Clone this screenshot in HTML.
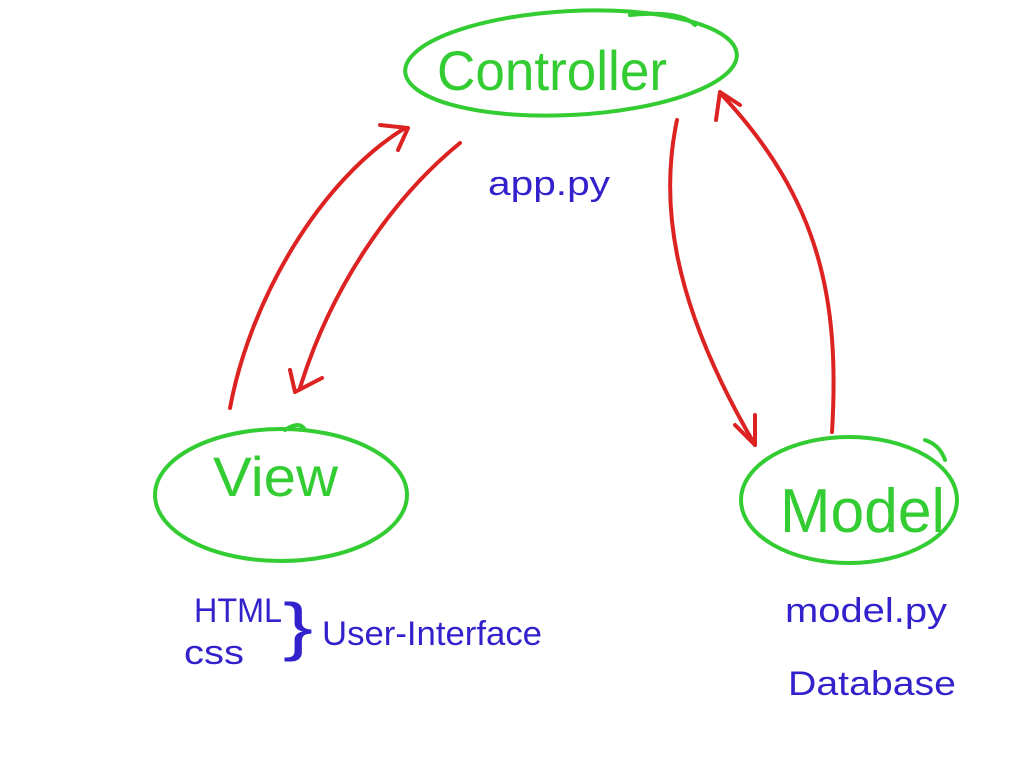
<!DOCTYPE html>
<html><head><meta charset="utf-8"><style>
html,body{margin:0;padding:0;background:#fff;width:1024px;height:768px;overflow:hidden}
svg text{font-family:"Liberation Sans",sans-serif}
</style></head><body>
<svg width="1024" height="768" viewBox="0 0 1024 768" xmlns="http://www.w3.org/2000/svg">
<g fill="none" stroke="#33cc33" stroke-width="4" stroke-linecap="round">
<ellipse cx="571" cy="63" rx="166" ry="52" transform="rotate(-3 571 63)"/>
<path d="M630 15 Q680 10 695 25"/>
<ellipse cx="281" cy="495" rx="126" ry="66"/>
<path d="M285 430 Q300 420 305 430"/>
<ellipse cx="849" cy="500" rx="108" ry="63"/>
<path d="M925 440 Q940 445 945 460"/>
</g>
<g font-size="56" fill="#33cc33" font-weight="normal">
<text x="437" y="90" textLength="230" lengthAdjust="spacingAndGlyphs">Controller</text>
<text x="213" y="496" textLength="125" lengthAdjust="spacingAndGlyphs">View</text>
<text x="780" y="532" textLength="165" lengthAdjust="spacingAndGlyphs" font-size="62">Model</text>
</g>
<g fill="none" stroke="#dd2222" stroke-width="4" stroke-linecap="round" stroke-linejoin="round">
<path d="M230 408 C250 300 320 180 405 128"/>
<path d="M380 125 L408 128 L398 150"/>
<path d="M460 143 C390 200 330 290 300 388"/>
<path d="M290 370 L295 392 L322 378"/>
<path d="M677 120 C660 200 670 300 755 445"/>
<path d="M735 425 L755 445 L755 415"/>
<path d="M832 432 C840 300 820 200 722 95"/>
<path d="M716 120 L720 92 L740 105"/>
</g>
<g fill="#3322cc" font-size="34">
<text x="488" y="195" textLength="122" lengthAdjust="spacingAndGlyphs">app.py</text>
<text x="194" y="622" textLength="88" lengthAdjust="spacingAndGlyphs">HTML</text>
<text x="184" y="664" textLength="60" lengthAdjust="spacingAndGlyphs">css</text>
<text x="283" y="648" font-size="64" textLength="30" lengthAdjust="spacingAndGlyphs">}</text>
<text x="322" y="645" textLength="220" lengthAdjust="spacingAndGlyphs">User-Interface</text>
<text x="785" y="622" textLength="162" lengthAdjust="spacingAndGlyphs">model.py</text>
<text x="788" y="695" textLength="168" lengthAdjust="spacingAndGlyphs">Database</text>
</g>
</svg>
</body></html>
